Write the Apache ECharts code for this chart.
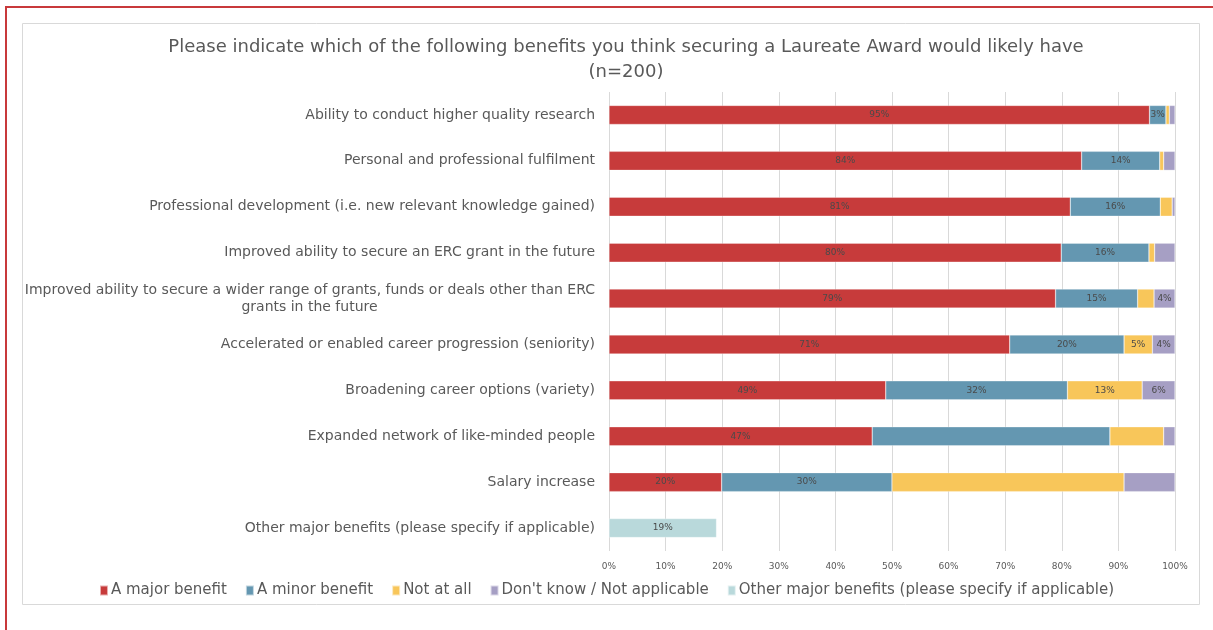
<!DOCTYPE html>
<html>
<head>
<meta charset="utf-8">
<script src="https://cdn.jsdelivr.net/npm/echarts@6/dist/echarts.min.js"></script>
<style>
    html, body { margin: 0; padding: 0; background: #fff; }
    #chart { width: 1213px; height: 630px; }
</style>
</head>
<body>
<div id="chart"></div>
<script>
const categories = [
    'Ability to conduct higher quality research',
    'Personal and professional fulfilment',
    'Professional development (i.e. new relevant knowledge gained)',
    'Improved ability to secure an ERC grant in the future',
    'Improved ability to secure a wider range of grants, funds or deals other than ERC\ngrants in the future',
    'Accelerated or enabled career progression (seniority)',
    'Broadening career options (variety)',
    'Expanded network of like-minded people',
    'Salary increase',
    'Other major benefits (please specify if applicable)'
];
const seriesNames = ['A major benefit', 'A minor benefit', 'Not at all', "Don't know / Not applicable", 'Other major benefits (please specify if applicable)'];
const majorValues = [95.5, 83.5, 81.5, 79.9, 78.9, 70.8, 48.9, 46.5, 19.9, null];
const minorValues = [2.9, 13.8, 15.9, 15.5, 14.5, 20.2, 32.1, 42.0, 30.1, null];
const notAtAllValues = [0.6, 0.7, 2.1, 1.0, 2.9, 5.0, 13.2, 9.5, 41.0, null];
const dontKnowValues = [1.0, 2.0, 0.5, 3.6, 3.7, 4.0, 5.8, 2.0, 9.0, null];
const otherValues = [null, null, null, null, null, null, null, null, null, 19.0];
// data labels as printed on the bars ('' = none shown)
const majorLabels = ['95%', '84%', '81%', '80%', '79%', '71%', '49%', '47%', '20%', ''];
const minorLabels = ['3%', '14%', '16%', '16%', '15%', '20%', '32%', '', '30%', ''];
const notAtAllLabels = ['', '', '', '', '', '5%', '13%', '', '', ''];
const dontKnowLabels = ['', '', '', '', '4%', '4%', '6%', '', '', ''];
const otherLabels = ['', '', '', '', '', '', '', '', '', '19%'];
const xTicks = ['0%', '10%', '20%', '30%', '40%', '50%', '60%', '70%', '80%', '90%', '100%'];

const colors = ['#C73B3B', '#6497B1', '#F8C65A', '#A69FC4', '#B9D9DB'];
const fontFamily = 'DejaVu Sans';
const labelFont = '14px "DejaVu Sans"';

// width of the first line of the wrapped category, so the second line can be centred under it
function measure (text) {
    const ctx = document.createElement('canvas').getContext('2d');
    ctx.font = labelFont;
    return Math.ceil(ctx.measureText(text).width);
}

function makeSeries (idx, values, labels) {
    return {
        name: seriesNames[idx],
        type: 'bar',
        stack: 'total',
        barWidth: 19,
        data: values,
        itemStyle: {
            color: colors[idx],
            borderColor: 'rgba(255,255,255,0.6)',
            borderWidth: 0.5
        },
        label: {
            show: true,
            position: 'inside',
            color: '#4a4a4a',
            fontSize: 9,
            fontFamily: fontFamily,
            formatter: p => labels[p.dataIndex]
        },
        emphasis: { disabled: true }
    };
}

const myChart = echarts.init(document.getElementById('chart'), null, { renderer: 'canvas' });
const option = {
    animation: false,
    color: colors,
    title: {
        text: 'Please indicate which of the following benefits you think securing a Laureate Award would likely have\n(n=200)',
        left: 621,
        top: 30,
        textAlign: 'center',
        textStyle: {
            fontFamily: fontFamily,
            fontWeight: 'normal',
            fontSize: 18,
            lineHeight: 25,
            color: '#595959'
        }
    },
    graphic: [
        {
            type: 'rect',
            shape: { x: 6, y: 7, width: 1220, height: 640 },
            style: { fill: 'none', stroke: '#C8393B', lineWidth: 2 },
            silent: true
        },
        {
            type: 'rect',
            shape: { x: 22.5, y: 23.5, width: 1177, height: 581 },
            style: { fill: 'none', stroke: '#D9D9D9', lineWidth: 1 },
            silent: true
        }
    ],
    legend: {
        data: seriesNames,
        left: 'center',
        top: 578,
        itemWidth: 8,
        itemHeight: 10,
        itemGap: 18,
        icon: 'rect',
        textStyle: {
            fontFamily: fontFamily,
            fontSize: 15,
            color: '#595959',
            padding: [0, 0, 0, -2]
        }
    },
    grid: {
        left: 609,
        right: 38,
        top: 92,
        bottom: 79
    },
    xAxis: {
        type: 'value',
        min: 0,
        max: 100,
        interval: 10,
        axisLine: { show: false },
        axisTick: { show: false },
        splitLine: { lineStyle: { color: '#D9D9D9', width: 1 } },
        axisLabel: {
            color: '#595959',
            fontSize: 9,
            fontFamily: fontFamily,
            margin: 11,
            formatter: v => xTicks[Math.round(v / 10)]
        }
    },
    yAxis: {
        type: 'category',
        inverse: true,
        data: categories,
        axisLine: { show: false },
        axisTick: { show: false },
        axisLabel: {
            margin: 14,
            color: '#595959',
            fontSize: 14,
            fontFamily: fontFamily,
            lineHeight: 17,
            formatter: v => {
                const parts = v.split('\n');
                if (parts.length === 1) return v;
                return '{a|' + parts[0] + '}\n{b|' + parts[1] + '}';
            },
            rich: {
                a: { fontSize: 14, fontFamily: fontFamily, color: '#595959', lineHeight: 17 },
                b: { fontSize: 14, fontFamily: fontFamily, color: '#595959', lineHeight: 17, align: 'center', width: measure(categories[4].split('\n')[0]) }
            }
        }
    },
    series: [
        makeSeries(0, majorValues, majorLabels),
        makeSeries(1, minorValues, minorLabels),
        makeSeries(2, notAtAllValues, notAtAllLabels),
        makeSeries(3, dontKnowValues, dontKnowLabels),
        makeSeries(4, otherValues, otherLabels)
    ]
};
myChart.setOption(option);
</script>
</body>
</html>
